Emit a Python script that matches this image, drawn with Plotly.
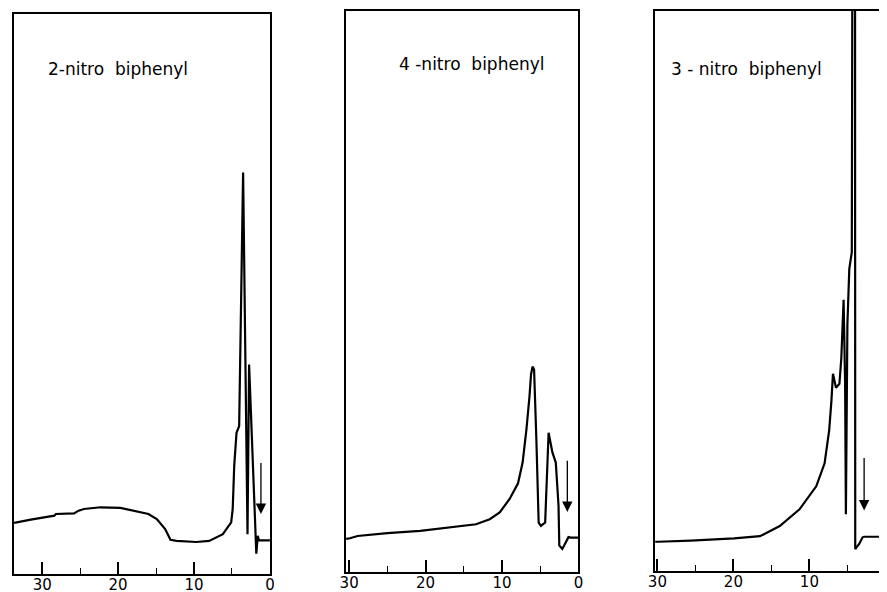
import plotly.graph_objects as go

W, H = 887, 592
PAGE_OFFSET = 8  # default body margin of the page that holds the figure
LW = 2.2         # frame line width (plotly draws it just outside the domain)

# ---- data (retention time in min, detector response in % of full scale) ----
t_2nitro = [33.7, 33.4, 31.5, 28.4, 28.2, 25.8, 25.2, 24.5, 22.3, 19.7, 18.0, 16.0, 14.9,
            13.8, 13.1, 12.3, 9.7, 8.0, 6.2, 5.1, 4.9, 4.7, 4.4, 4.05, 3.53, 2.95,
            2.74, 1.79, 1.6, 1.45, 0.0]
r_2nitro = [9.1, 9.2, 9.7, 10.4, 10.7, 10.8, 11.3, 11.6, 11.9, 11.8, 11.3, 10.7, 9.8,
            8.0, 6.1, 5.9, 5.7, 5.9, 7.1, 9.2, 11.6, 19.3, 25.2, 26.4, 71.7, 7.1,
            37.4, 3.6, 6.8, 6.0, 6.0]

t_4nitro = [30.4, 29.9, 28.9, 25.0, 20.7, 16.4, 13.4, 11.6, 10.3, 9.0, 7.9, 7.3, 6.8,
            6.4, 6.2, 6.0, 5.8, 5.5, 5.2, 4.9, 4.35, 3.9, 3.4, 2.96, 2.6, 2.5, 2.1,
            1.3, 1.0, 0.0]
r_4nitro = [5.9, 6.0, 6.4, 6.9, 7.3, 8.0, 8.5, 9.4, 10.6, 13.0, 15.8, 19.5, 25.4,
            31.3, 35.2, 36.6, 36.1, 23.6, 8.8, 8.2, 8.8, 24.8, 21.3, 19.5, 11.8, 4.7, 4.1,
            6.2, 6.1, 6.1]

t_3nitro = [30.3, 29.9, 25.6, 19.9, 16.5, 13.9, 11.3, 9.1, 8.0, 7.4, 7.1, 6.9, 6.5,
            6.05, 5.8, 5.5, 5.3, 5.2, 5.0, 4.75, 4.42, 4.38, 4.3, 4.0, 3.97, 3.45, 3.0,
            2.8, 0.0]
r_3nitro = [5.2, 5.2, 5.4, 5.8, 6.2, 8.0, 11.0, 15.1, 19.2, 25.1, 30.4, 35.2, 32.7,
            33.4, 38.0, 48.4, 33.4, 10.1, 44.0, 53.9, 56.9, 140.0, 140.0, 140.0, 3.9, 4.8, 6.0,
            6.1, 6.1]

labels = ["2-nitro&nbsp; biphenyl", "4 -nitro&nbsp; biphenyl", "3 - nitro&nbsp; biphenyl"]
label_pos_t = [29.5, 23.8, 28.45]
label_pos_r = [90.2, 90.6, 89.6]

# injection marker arrows: (time, tail response, tip response)
arrow_t = [1.18, 1.45, 2.8]
arrow_tail = [20.1, 20.1, 20.4]
arrow_tip = [10.7, 10.7, 10.8]

x_ranges = [[33.7, 0], [30.4, 0], [30.3, 0]]
tick_vals = [0, 10, 20, 30]
tick_text = ["0", "10", "20", "30"]

# ---- layout geometry (screen pixels of the frame lines) ----
panels_px = [  # left, right, top, bottom
    (13, 271, 13, 575),
    (345, 579.5, 10, 573),
    (654, 886.5, 9.6, 572),
]

series = [(t_2nitro, r_2nitro), (t_4nitro, r_4nitro), (t_3nitro, r_3nitro)]

fig = go.Figure()
FONT = "DejaVu Sans"
INSET = LW / 2


def fx(px):
    return min(max((px - PAGE_OFFSET) / W, 0), 1)


def fy(py):
    return min(max((H - (py - PAGE_OFFSET)) / H, 0), 1)


for i, ((t, r), (l, rr, tp, bt)) in enumerate(zip(series, panels_px)):
    n = "" if i == 0 else str(i + 1)
    fig.add_trace(go.Scatter(x=t, y=r, mode="lines",
                             line=dict(color="black", width=2.2),
                             xaxis="x" + n, yaxis="y" + n, showlegend=False,
                             hoverinfo="skip"))
    xa = dict(domain=[fx(l + INSET), fx(rr - INSET)], range=x_ranges[i], anchor="y" + n,
              automargin=False,
              showline=True, mirror=True, linecolor="black", linewidth=LW,
              showgrid=False, zeroline=False,
              ticks="inside", ticklen=12, tickwidth=1.6, tickcolor="black",
              tickvals=tick_vals, ticktext=tick_text, ticklabelstandoff=-4,
              tickfont=dict(family=FONT, size=15, color="black"),
              minor=dict(dtick=5, tick0=0, ticks="inside", ticklen=6,
                         tickwidth=1.4, tickcolor="black", showgrid=False),
              fixedrange=True)
    ya = dict(domain=[fy(bt - INSET), fy(tp + INSET)], range=[0, 100],
              anchor="x" + n, automargin=False,
              showline=True, mirror=True, linecolor="black",
              linewidth=LW, showgrid=False, zeroline=False, showticklabels=False,
              ticks="", fixedrange=True)
    fig.update_layout(**{"xaxis" + n: xa, "yaxis" + n: ya})
    fig.add_annotation(x=label_pos_t[i], y=label_pos_r[i], xref="x" + n, yref="y" + n,
                       text=labels[i], showarrow=False, xanchor="left",
                       font=dict(family=FONT, size=17, color="black"))
    fig.add_annotation(x=arrow_t[i], y=arrow_tip[i], ax=arrow_t[i], ay=arrow_tail[i],
                       xref="x" + n, yref="y" + n, axref="x" + n, ayref="y" + n,
                       text="", showarrow=True, arrowhead=2, arrowsize=1.6,
                       arrowwidth=1.3, arrowcolor="black")

fig.update_layout(template="none", width=W, height=H,
                  margin=dict(l=0, r=0, t=0, b=0, pad=0),
                  paper_bgcolor="white", plot_bgcolor="white")

fig.write_html("out.html")
